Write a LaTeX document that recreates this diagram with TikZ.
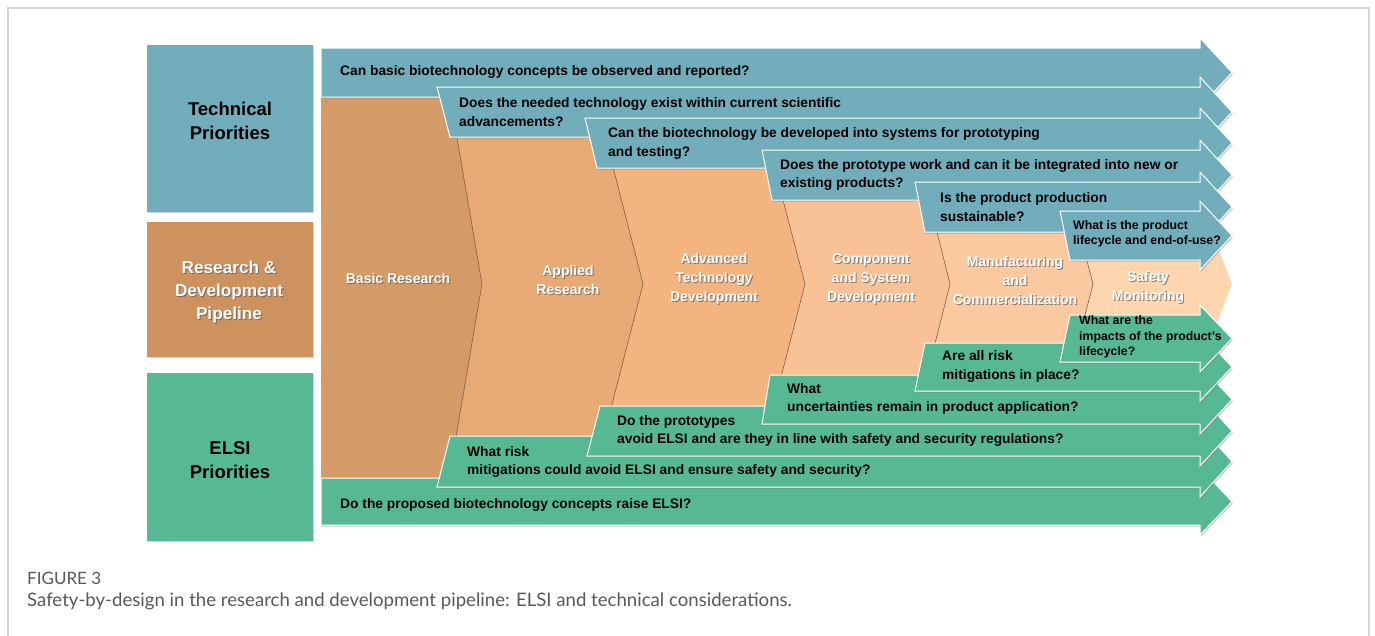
\documentclass[tikz,border=0pt]{standalone}
\usepackage{fontspec}
\setmainfont{Liberation Sans}
\newfontfamily\capfont{Lato}
\usetikzlibrary{shadows}

\definecolor{techteal}{RGB}{114,173,188}
\definecolor{elsigreen}{RGB}{86,185,148}
\definecolor{rdtan}{RGB}{205,146,94}
\definecolor{stageA}{RGB}{213,155,103}
\definecolor{stageB}{RGB}{232,170,116}
\definecolor{stageC}{RGB}{243,180,127}
\definecolor{stageD}{RGB}{248,194,150}
\definecolor{stageE}{RGB}{250,201,160}
\definecolor{stageF}{RGB}{253,214,176}
\definecolor{capgray}{RGB}{88,88,88}
\definecolor{framegray}{RGB}{212,212,212}

\begin{document}
\begin{tikzpicture}[x=1pt,y=-1pt,
font=\fontsize{13.8}{18.5}\selectfont\bfseries]

\tikzstyle{tband}=[fill=techteal, draw=white, line width=1pt, line join=miter,
drop shadow={shadow xshift=0.8pt, shadow yshift=-1.6pt, opacity=0.45}]
\tikzstyle{gband}=[tband, fill=elsigreen]
\tikzstyle{sidebox}=[draw=none, inner sep=0pt, minimum width=166pt,
drop shadow={shadow xshift=0.8pt, shadow yshift=-1.2pt, opacity=0.35}]
\tikzstyle{sidetitle}=[align=center, font=\fontsize{18.5}{24}\selectfont\bfseries]
\tikzstyle{stageedge}=[draw=black!50!stageA, line width=0.5pt]
\tikzstyle{stagelbl}=[align=center, text=white, font=\fontsize{14}{19}\selectfont\bfseries]
\tikzstyle{stageshade}=[stagelbl, text=black!65, opacity=0.7, xshift=1pt, yshift=-1.3pt]
\tikzstyle{qtext}=[anchor=west, align=left, inner sep=0pt]
\tikzstyle{qsmall}=[qtext, font=\fontsize{12.3}{15.5}\selectfont\bfseries]

\useasboundingbox (0,0) rectangle (1375,635);

%frame
\draw[framegray, line width=1.3pt] (8,640) |- (1369,8) -- (1369,640);

%side boxes
\node[sidebox, fill=techteal, minimum height=167pt] (techbox) at (230,128.5) {};
\node[sidebox, fill=rdtan, minimum height=135pt] (rdbox) at (230,289.5) {};
\node[sidebox, fill=elsigreen, minimum height=168pt] (elsibox) at (230,456.5) {};

\node[sidetitle] (techlbl) at (230,120.5) {Technical\\Priorities};
\node[sidetitle, text=black!65, opacity=0.7, xshift=1pt, yshift=-1.3pt, font=\fontsize{17.2}{23}\selectfont\bfseries] (rdshade) at (229,292) {Research \&\\Development\\Pipeline};
\node[sidetitle, text=white, font=\fontsize{17.2}{23}\selectfont\bfseries] (rdlbl) at (229,292) {Research \&\\Development\\Pipeline};
\node[sidetitle] (elsilbl) at (230,460) {ELSI\\Priorities};

%pipeline stages
\fill[stageA] (321,97) -- (450,97) -- (482,284) -- (449,478) -- (321,478) -- cycle;
\fill[stageB] (450,97) -- (595,97) -- (643,284) -- (593,478) -- (449,478) -- (482,284) -- cycle;
\fill[stageC] (595,97) -- (756,97) -- (805,284) -- (755,478) -- (593,478) -- (643,284) -- cycle;
\fill[stageD] (756,97) -- (903,97) -- (950,284) -- (901,478) -- (755,478) -- (805,284) -- cycle;
\fill[stageE] (903,97) -- (1044,97) -- (1093,284) -- (1043,478) -- (901,478) -- (950,284) -- cycle;
\fill[stageF] (1044,97) -- (1161,97) -- (1232,284) -- (1158,478) -- (1043,478) -- (1093,284) -- cycle;

\draw[stageedge] (450,97) -- (482,284) -- (449,478);
\draw[stageedge] (595,97) -- (643,284) -- (593,478);
\draw[stageedge] (756,97) -- (805,284) -- (755,478);
\draw[stageedge] (903,97) -- (950,284) -- (901,478);
\draw[stageedge] (1044,97) -- (1093,284) -- (1043,478);
\draw[stageedge, draw=white!70!stageF] (1161,97) -- (1232,284) -- (1158,478);

%technical questions
\path[tband] (321,48) -- (1200,48) -- (1200,38) -- (1232,72.5) -- (1200,107) -- (1200,97) -- (321,97) -- cycle;
\path[tband] (437,87) -- (1200,87) -- (1200,77) -- (1232,112) -- (1200,147) -- (1200,137) -- (450,137) -- cycle;
\path[tband] (585,118) -- (1200,118) -- (1200,108) -- (1232,143) -- (1200,178) -- (1200,168) -- (597,168) -- cycle;
\path[tband] (762,150) -- (1200,150) -- (1200,140) -- (1232,175) -- (1200,210) -- (1200,200) -- (772,200) -- cycle;
\path[tband] (915,182) -- (1200,182) -- (1200,172) -- (1232,207) -- (1200,242) -- (1200,232) -- (925,232) -- cycle;
\path[tband] (1060,211) -- (1200,211) -- (1200,201) -- (1232,235.5) -- (1200,270) -- (1200,260) -- (1070,260) -- cycle;

%elsi questions
\path[gband] (321,478) -- (1200,478) -- (1200,468) -- (1232,501.5) -- (1200,535) -- (1200,525) -- (321,525) -- cycle;
\path[gband] (450,436) -- (1200,436) -- (1200,426) -- (1232,461.5) -- (1200,497) -- (1200,487) -- (437,487) -- cycle;
\path[gband] (600,406) -- (1200,406) -- (1200,396) -- (1232,431) -- (1200,466) -- (1200,456) -- (587,456) -- cycle;
\path[gband] (770,375) -- (1200,375) -- (1200,365) -- (1232,399.5) -- (1200,434) -- (1200,424) -- (762,424) -- cycle;
\path[gband] (925,343) -- (1200,343) -- (1200,333) -- (1232,367) -- (1200,401) -- (1200,391) -- (915,391) -- cycle;
\path[gband] (1070,315) -- (1200,315) -- (1200,305) -- (1232,338.5) -- (1200,372) -- (1200,362) -- (1060,362) -- cycle;

%stage names
\node[stageshade] (s1shade) at (398,278) {Basic Research};
\node[stagelbl] (s1) at (398,278) {Basic Research};
\node[stageshade] (s2shade) at (568,279.5) {Applied\\Research};
\node[stagelbl] (s2) at (568,279.5) {Applied\\Research};
\node[stageshade] (s3shade) at (714,279) {Advanced\\Technology\\Development};
\node[stagelbl] (s3) at (714,279) {Advanced\\Technology\\Development};
\node[stageshade] (s4shade) at (871,279) {Component\\and System\\Development};
\node[stagelbl] (s4) at (871,279) {Component\\and System\\Development};
\node[stageshade] (s5shade) at (1015,280) {Manufacturing\\and\\Commercialization};
\node[stagelbl] (s5) at (1015,280) {Manufacturing\\and\\Commercialization};
\node[stageshade] (s6shade) at (1148,287.5) {Safety\\Monitoring};
\node[stagelbl] (s6) at (1148,287.5) {Safety\\Monitoring};

%question texts
\node[qtext] (t1) at (340,72) {Can basic biotechnology concepts be observed and reported?};
\node[qtext] (t2) at (459,112) {Does the needed technology exist within current scientific\\advancements?};
\node[qtext] (t3) at (608,143.5) {Can the biotechnology be developed into systems for prototyping\\and testing?};
\node[qtext] (t4) at (780,175) {Does the prototype work and can it be integrated into new or\\existing products?};
\node[qtext] (t5) at (940,207) {Is the product production\\sustainable?};
\node[qsmall] (t6) at (1073,234) {What is the product\\lifecycle and end-of-use?};

\node[qtext] (g1) at (340,505) {Do the proposed biotechnology concepts raise ELSI?};
\node[qtext] (g2) at (467,462) {What risk\\mitigations could avoid ELSI and ensure safety and security?};
\node[qtext] (g3) at (617,431) {Do the prototypes\\avoid ELSI and are they in line with safety and security regulations?};
\node[qtext] (g4) at (787,399) {What\\uncertainties remain in product application?};
\node[qtext] (g5) at (942,366.5) {Are all risk\\mitigations in place?};
\node[qsmall] (g6) at (1079,337) {What are the\\impacts of the product's\\lifecycle?};

%caption
\node[anchor=west, inner sep=0pt, text=capgray, font=\capfont\fontsize{17}{20}\selectfont] (fignum) at (27,578) {FIGURE 3};
\node[anchor=west, inner sep=0pt, text=capgray, font=\capfont\fontsize{18.6}{22}\selectfont] (figcap) at (27,601) {Safety-by-design in the research and development pipeline: ELSI and technical considerations.};

\end{tikzpicture}
\end{document}
